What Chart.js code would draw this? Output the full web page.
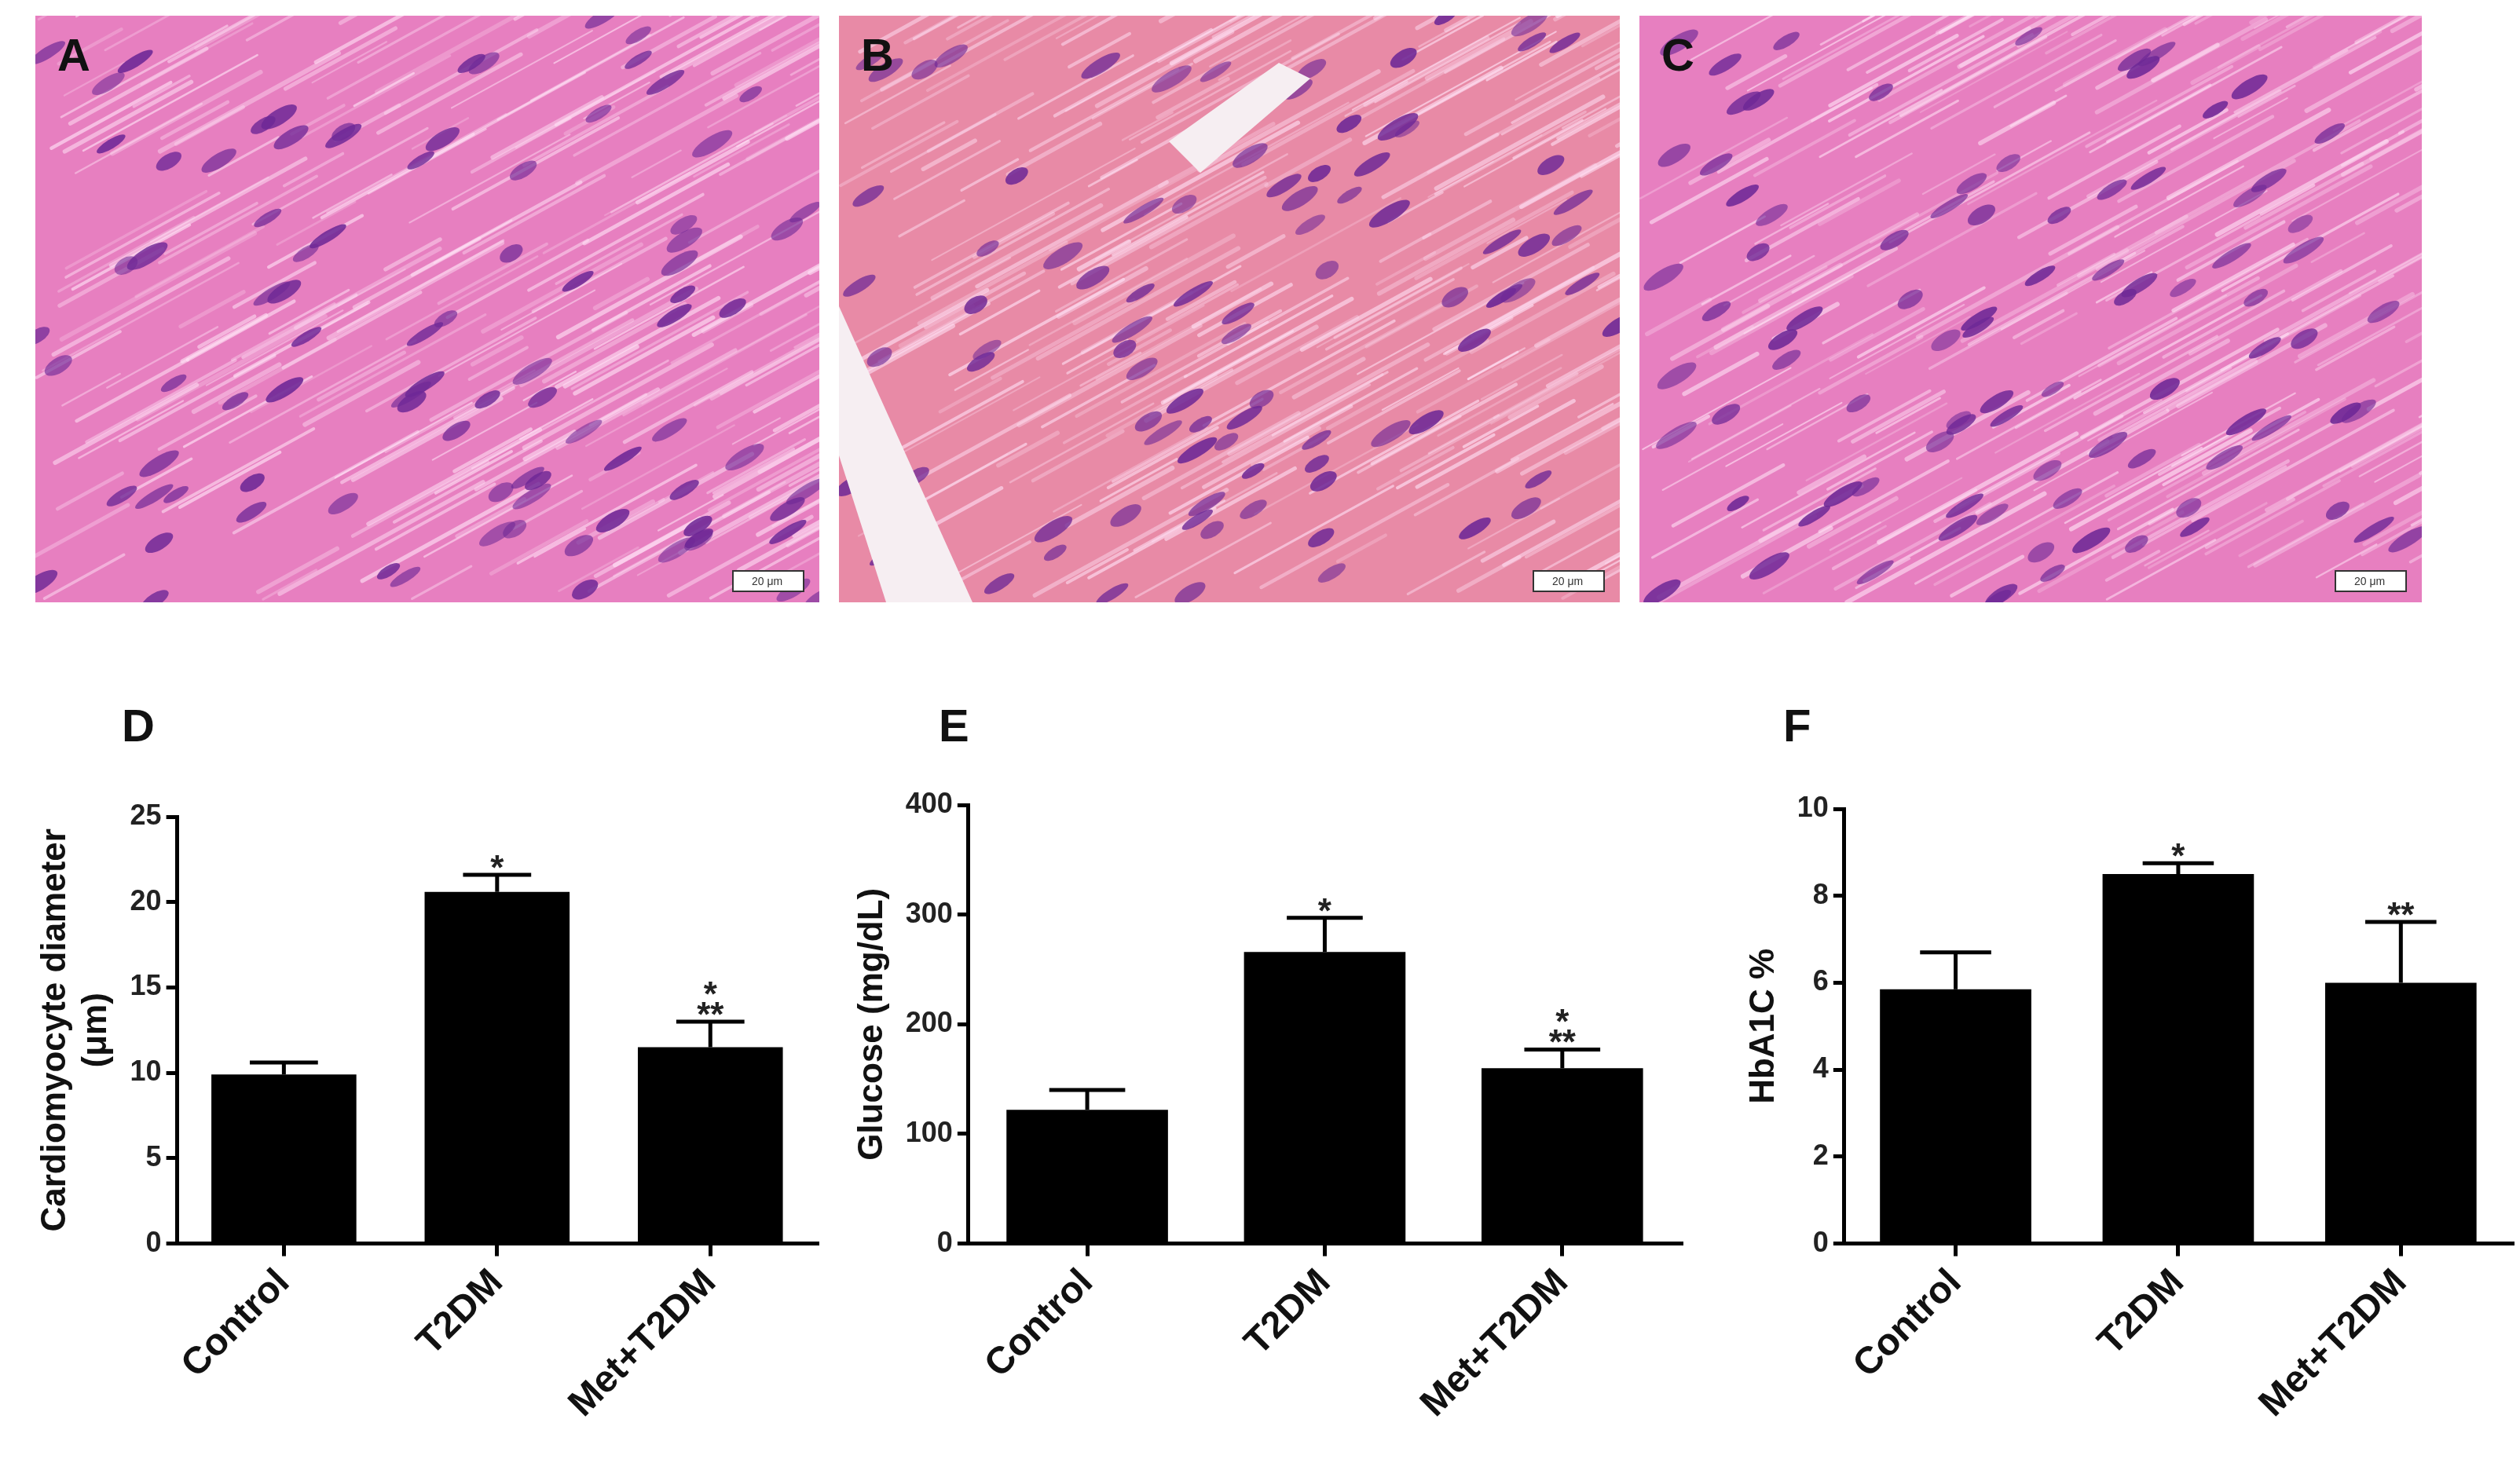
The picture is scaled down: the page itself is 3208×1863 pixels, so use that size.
<!DOCTYPE html>
<html><head><meta charset="utf-8">
<script src="https://cdn.jsdelivr.net/npm/chart.js@4.4.1/dist/chart.umd.min.js"></script>
<style>
body{margin:0;background:#fff;width:3208px;height:1863px;position:relative;overflow:hidden;font-family:"Liberation Sans",Arial,sans-serif}
canvas{position:absolute}
.lbl{position:absolute;font-weight:bold;font-size:58px;color:#111}
</style></head><body>
<canvas id="histo" width="3208" height="800" style="left:0;top:0"></canvas>
<canvas id="cD" width="1070" height="983" style="left:0;top:880px"></canvas>
<canvas id="cE" width="1080" height="983" style="left:1080px;top:880px"></canvas>
<canvas id="cF" width="1048" height="983" style="left:2160px;top:880px"></canvas>
<div class="lbl" style="left:155px;top:890px">D</div>
<div class="lbl" style="left:1195px;top:890px">E</div>
<div class="lbl" style="left:2270px;top:890px">F</div>
<script>
const categories = ["Control", "T2DM", "Met+T2DM"];
const diameterMeans = [9.9, 20.6, 11.5];
const diameterErr = [0.7, 1.0, 1.5];
const diameterStars = ["", "*", "*\n**"];
const glucoseMeans = [122, 266, 160];
const glucoseErr = [18, 31, 17];
const glucoseStars = ["", "*", "*\n**"];
const hba1cMeans = [5.85, 8.5, 6.0];
const hba1cErr = [0.85, 0.25, 1.4];
const hba1cStars = ["", "*", "**"];

// decorative histology panels (images in the original)
(function(){
  const c=document.getElementById('histo').getContext('2d');
  const panels=[[45,20,998,747,'A'],[1068,20,994,747,'B'],[2087,20,996,747,'C']];
  let seed=7;function rnd(){seed=(seed*16807)%2147483647;return seed/2147483647;}
  panels.forEach(p=>{
    const [x,y,w,h,l]=p;
    c.save();c.beginPath();c.rect(x,y,w,h);c.clip();
    c.fillStyle=l==='B'?'#e88aa6':'#e77fc0';c.fillRect(x,y,w,h);
    c.lineCap='round';
    for(let i=0;i<260;i++){
      const sx=x+rnd()*w,sy=y+rnd()*h,len=60+rnd()*200;
      c.strokeStyle='rgba(255,225,245,'+(0.25+rnd()*0.4)+')';c.lineWidth=2+rnd()*4;
      c.beginPath();c.moveTo(sx,sy);c.lineTo(sx+len,sy-len*0.55);c.stroke();
    }
    for(let i=0;i<90;i++){
      const sx=x+rnd()*w,sy=y+rnd()*h;
      c.fillStyle='rgba(110,40,150,'+(0.55+rnd()*0.35)+')';
      c.beginPath();c.ellipse(sx,sy,16+rnd()*14,6+rnd()*4,-0.55,0,Math.PI*2);c.fill();
    }
    if(l==='B'){c.fillStyle='#f6eef2';c.beginPath();c.moveTo(x,y+370);c.lineTo(x+170,y+747);c.lineTo(x+60,y+747);c.lineTo(x,y+560);c.fill();
      c.beginPath();c.moveTo(x+420,y+160);c.lineTo(x+560,y+60);c.lineTo(x+600,y+80);c.lineTo(x+460,y+200);c.fill();}
    c.restore();
    c.fillStyle='#111';c.font='bold 58px "Liberation Sans"';c.fillText(l,x+28,y+70);
    c.fillStyle='#fff';c.fillRect(x+w-110,y+h-40,90,26);c.strokeStyle='#333';c.lineWidth=2;c.strokeRect(x+w-110,y+h-40,90,26);
    c.fillStyle='#333';c.font='14px "Liberation Sans"';c.fillText('20 μm',x+w-86,y+h-22);
  });
})();

const errPlugin={id:'err',afterDatasetsDraw(chart,args,opts){
  const c=chart.ctx,ys=chart.scales.y,meta=chart.getDatasetMeta(0);
  c.save();c.strokeStyle='#000';c.lineWidth=5;c.fillStyle='#222';
  c.font='bold 44px "Liberation Sans"';c.textAlign='center';
  meta.data.forEach((b,i)=>{
    const v=opts.means[i],e=opts.err[i];
    const yTop=ys.getPixelForValue(v+e),cw=b.width*0.47;
    c.beginPath();c.moveTo(b.x,ys.getPixelForValue(v));c.lineTo(b.x,yTop);
    c.moveTo(b.x-cw/2,yTop);c.lineTo(b.x+cw/2,yTop);c.stroke();
    const lines=opts.stars[i].split('\n').filter(s=>s);
    lines.reverse().forEach((s,k)=>c.fillText(s,b.x,yTop+6-k*26));
  });
  c.restore();
}};

function make(id,means,err,stars,max,step,title,pad){
  new Chart(document.getElementById(id),{
    type:'bar',
    data:{labels:categories,datasets:[{data:means,backgroundColor:'#000',borderColor:'#000',barPercentage:0.68,categoryPercentage:1}]},
    options:{responsive:false,animation:false,devicePixelRatio:1,
      layout:{padding:pad},
      plugins:{legend:{display:false},tooltip:{enabled:false},err:{means,err,stars}},
      scales:{
        x:{grid:{display:true,drawOnChartArea:false,offset:false,color:'#000',lineWidth:5,tickLength:16},
           border:{color:'#000',width:5},
           ticks:{color:'#111',minRotation:45,maxRotation:45,padding:6,font:{family:'Liberation Sans',weight:'bold',size:48}}},
        y:{min:0,max:max,grid:{display:true,drawOnChartArea:false,color:'#000',lineWidth:5,tickLength:14},
           border:{color:'#000',width:5},
           ticks:{stepSize:step,color:'#222',padding:6,font:{family:'Liberation Sans',weight:'bold',size:36}},
           title:{display:true,text:title,color:'#111',font:{family:'Liberation Sans',weight:'bold',size:44},padding:{bottom:10}}}
      }}
    ,plugins:[errPlugin]});
}
make('cD',diameterMeans,diameterErr,diameterStars,25,5,['Cardiomyocyte diameter','(μm)'],{left:40,top:160,right:30,bottom:40});
make('cE',glucoseMeans,glucoseErr,glucoseStars,400,100,'Glucose (mg/dL)',{left:0,top:145,right:20,bottom:40});
make('cF',hba1cMeans,hba1cErr,hba1cStars,10,2,'HbA1C %',{left:55,top:150,right:10,bottom:40});
</script>
</body></html>
